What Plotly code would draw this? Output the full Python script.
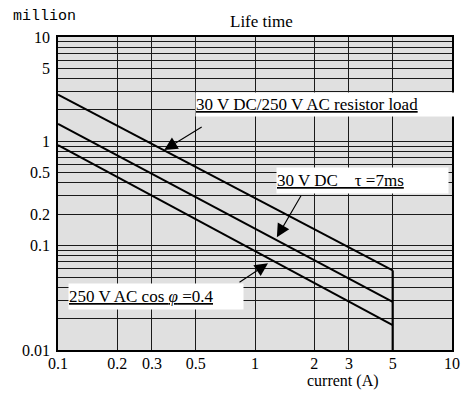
import plotly.graph_objects as go

# ---- data ----
current_a = [0.1, 5]
resistor_load = [2.8, 0.058]      # 30 V DC / 250 V AC resistor load
dc_inductive = [1.47, 0.029]      # 30 V DC tau = 7 ms
ac_inductive = [0.92, 0.0173]     # 250 V AC cos phi = 0.4
cutoff_x = [5, 5]
cutoff_y = [0.058, 0.01]

x_ticks = [0.1, 0.2, 0.3, 0.5, 1, 2, 3, 5, 10]
x_labels = ["0.1", "0.2", "0.3", "0.5", "1", "2", "3", "5", "10"]
y_ticks = [0.01, 0.1, 0.2, 0.5, 1, 5, 10]
y_labels = ["0.01", "0.1", "0.2", "0.5", "1", "5", "10"]
y_minor = [m * 10 ** e for e in (-2, -1, 0) for m in range(1, 10)] + [10]

SERIF = "Liberation Serif"

fig = go.Figure()
for ys in (resistor_load, dc_inductive, ac_inductive):
    fig.add_trace(go.Scatter(x=current_a, y=ys, mode="lines",
                             line=dict(color="black", width=2),
                             showlegend=False, hoverinfo="skip"))
fig.add_trace(go.Scatter(x=cutoff_x, y=cutoff_y, mode="lines",
                         line=dict(color="black", width=2.2),
                         showlegend=False, hoverinfo="skip"))

grid = "#1a1a1a"
fig.update_xaxes(type="log", range=[-1, 1], tickvals=x_ticks, ticktext=x_labels,
                 showgrid=True, gridcolor=grid, gridwidth=1.3,
                 showline=True, linecolor="black", linewidth=1.5, mirror=True,
                 ticks="", zeroline=False, ticklabelstandoff=-2,
                 tickfont=dict(family=SERIF, size=16, color="black"))
fig.update_yaxes(type="log", range=[-2, 1], tickvals=y_ticks, ticktext=y_labels,
                 showgrid=True, gridcolor=grid, gridwidth=1.3,
                 minor=dict(tickvals=y_minor, showgrid=True, gridcolor=grid, gridwidth=1.3, ticks=""),
                 showline=True, linecolor="black", linewidth=1.5, mirror=True,
                 ticks="", zeroline=False, ticklabelstandoff=3,
                 tickfont=dict(family=SERIF, size=16, color="black"))

box_font = dict(family=SERIF, size=17, color="black")
arrow_style = dict(showarrow=True, arrowhead=2, arrowsize=2.4, arrowwidth=1.1, arrowcolor="black", text="")
annotations = [
    # text boxes
    dict(xref="paper", yref="paper", x=0.3466, y=0.8243, xanchor="left", yanchor="top",
         text="<u>30 V DC/250 V AC resistor load</u>", width=261, height=23, align="left",
         valign="middle", bgcolor="white", borderpad=0, showarrow=False, font=box_font),
    dict(xref="paper", yref="paper", x=0.5536, y=0.5847, xanchor="left", yanchor="top",
         text="<u>30 V DC\u00a0\u00a0\u00a0 τ =7ms</u>", width=171, height=25, align="left",
         valign="middle", bgcolor="white", borderpad=0, showarrow=False, font=box_font),
    dict(xref="paper", yref="paper", x=0.0249, y=0.2141, xanchor="left", yanchor="top",
         text="<u>250 V AC cos <i>φ</i> =0.4</u>", width=174, height=25, align="left",
         valign="middle", bgcolor="white", borderpad=0, showarrow=False, font=box_font),
    # arrows (head position in log axis units, tail offset in px)
    dict(xref="x", yref="y", x=-0.461, y=-0.083, ax=39, ay=-24, **arrow_style),
    dict(xref="x", yref="y", x=0.111, y=-0.92, ax=25, ay=-43, **arrow_style),
    dict(xref="x", yref="y", x=0.066, y=-1.169, ax=-30, ay=20, **arrow_style),
    # labels
    dict(xref="paper", yref="paper", x=-0.1197, y=1.067, xanchor="left", yanchor="middle",
         text="million", showarrow=False,
         font=dict(family="Liberation Mono", size=15, color="black")),
    dict(xref="paper", yref="paper", x=0.516, y=1.048, xanchor="center", yanchor="middle",
         text="Life time", showarrow=False, font=dict(family=SERIF, size=17, color="black")),
    dict(xref="paper", yref="paper", x=0.723, y=-0.1, xanchor="center", yanchor="middle",
         text="current (A)", showarrow=False, font=dict(family=SERIF, size=16, color="black")),
]

fig.update_layout(width=472, height=398, margin=dict(l=58, r=13, t=37, b=48),
                  paper_bgcolor="white", plot_bgcolor="#e0e0e0",
                  annotations=annotations, showlegend=False)

fig.write_html("out.html", config={"displayModeBar": False},
               post_script="document.body.style.margin='0';document.body.style.padding='0';")
